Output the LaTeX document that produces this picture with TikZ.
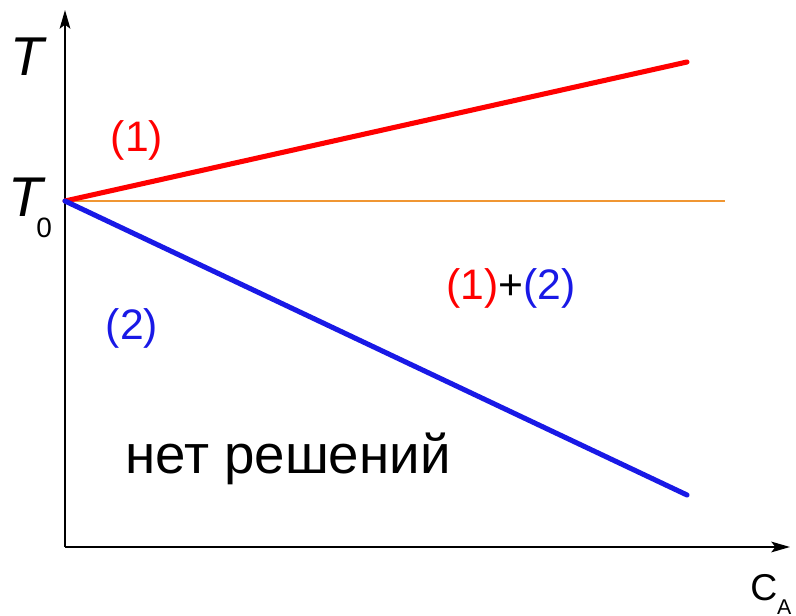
\documentclass[tikz,border=0pt]{standalone}
\usepackage{fontspec}
\setmainfont{Liberation Sans}
\usetikzlibrary{arrows.meta}
\definecolor{lineorange}{RGB}{240,150,50}
\definecolor{lineblue}{RGB}{25,25,230}

\begin{document}
\begin{tikzpicture}[x=0.75pt, y=-0.75pt]

    % Fix the frame to the reference size
    \useasboundingbox (0,0) rectangle (796,616);

    % Origin, axis ends and the common starting point
    \coordinate (O) at (65,547);
    \coordinate (Ytop) at (65,10);
    \coordinate (Xend) at (790,547);
    \coordinate (P) at (65,201);
    \coordinate (R) at (687,62);
    \coordinate (B) at (687,495);
    \coordinate (H) at (725,201);

    % Axes
    \draw[line width=1.5pt, -{Stealth[length=14pt, width=8pt, inset=3pt]}] (O) -- (Ytop);
    \draw[line width=1.5pt, -{Stealth[length=14pt, width=8pt, inset=3pt]}] (O) -- (Xend);

    % Horizontal level T0
    \draw[lineorange, line width=1.5pt] (P) -- (H);

    % The two boundary lines
    \draw[red, line width=3.8pt, line cap=round] (P) -- (R);
    \draw[lineblue, line width=3.8pt, line cap=round] (P) -- (B);

    % Axis labels
    \node[anchor=base west, inner sep=0pt] (Tlab) at (10,76) {\fontsize{41}{41}\selectfont\itshape T};
    \node[anchor=base west, inner sep=0pt] (T0lab) at (8,217) {\fontsize{42}{42}\selectfont\itshape T\kern-4.5pt\raisebox{-15.5pt}{\fontsize{21}{21}\selectfont\upshape 0}};
    \node[anchor=base west, inner sep=0pt] (Clab) at (750,600) {\fontsize{28}{28}\selectfont C\raisebox{-11.2pt}{\fontsize{16}{16}\selectfont A}};

    % Region labels
    \node[red] (one) at (137,140) {\fontsize{32}{32}\selectfont (1)};
    \node[lineblue] (two) at (132,328) {\fontsize{32}{32}\selectfont (2)};
    \node (both) at (511,288) {\fontsize{32}{32}\selectfont\textcolor{red}{(1)}+\textcolor{lineblue}{(2)}};
    \node[anchor=base] (none) at (288,473) {\fontsize{41}{41}\selectfont нет решений};
\end{tikzpicture}
\end{document}
